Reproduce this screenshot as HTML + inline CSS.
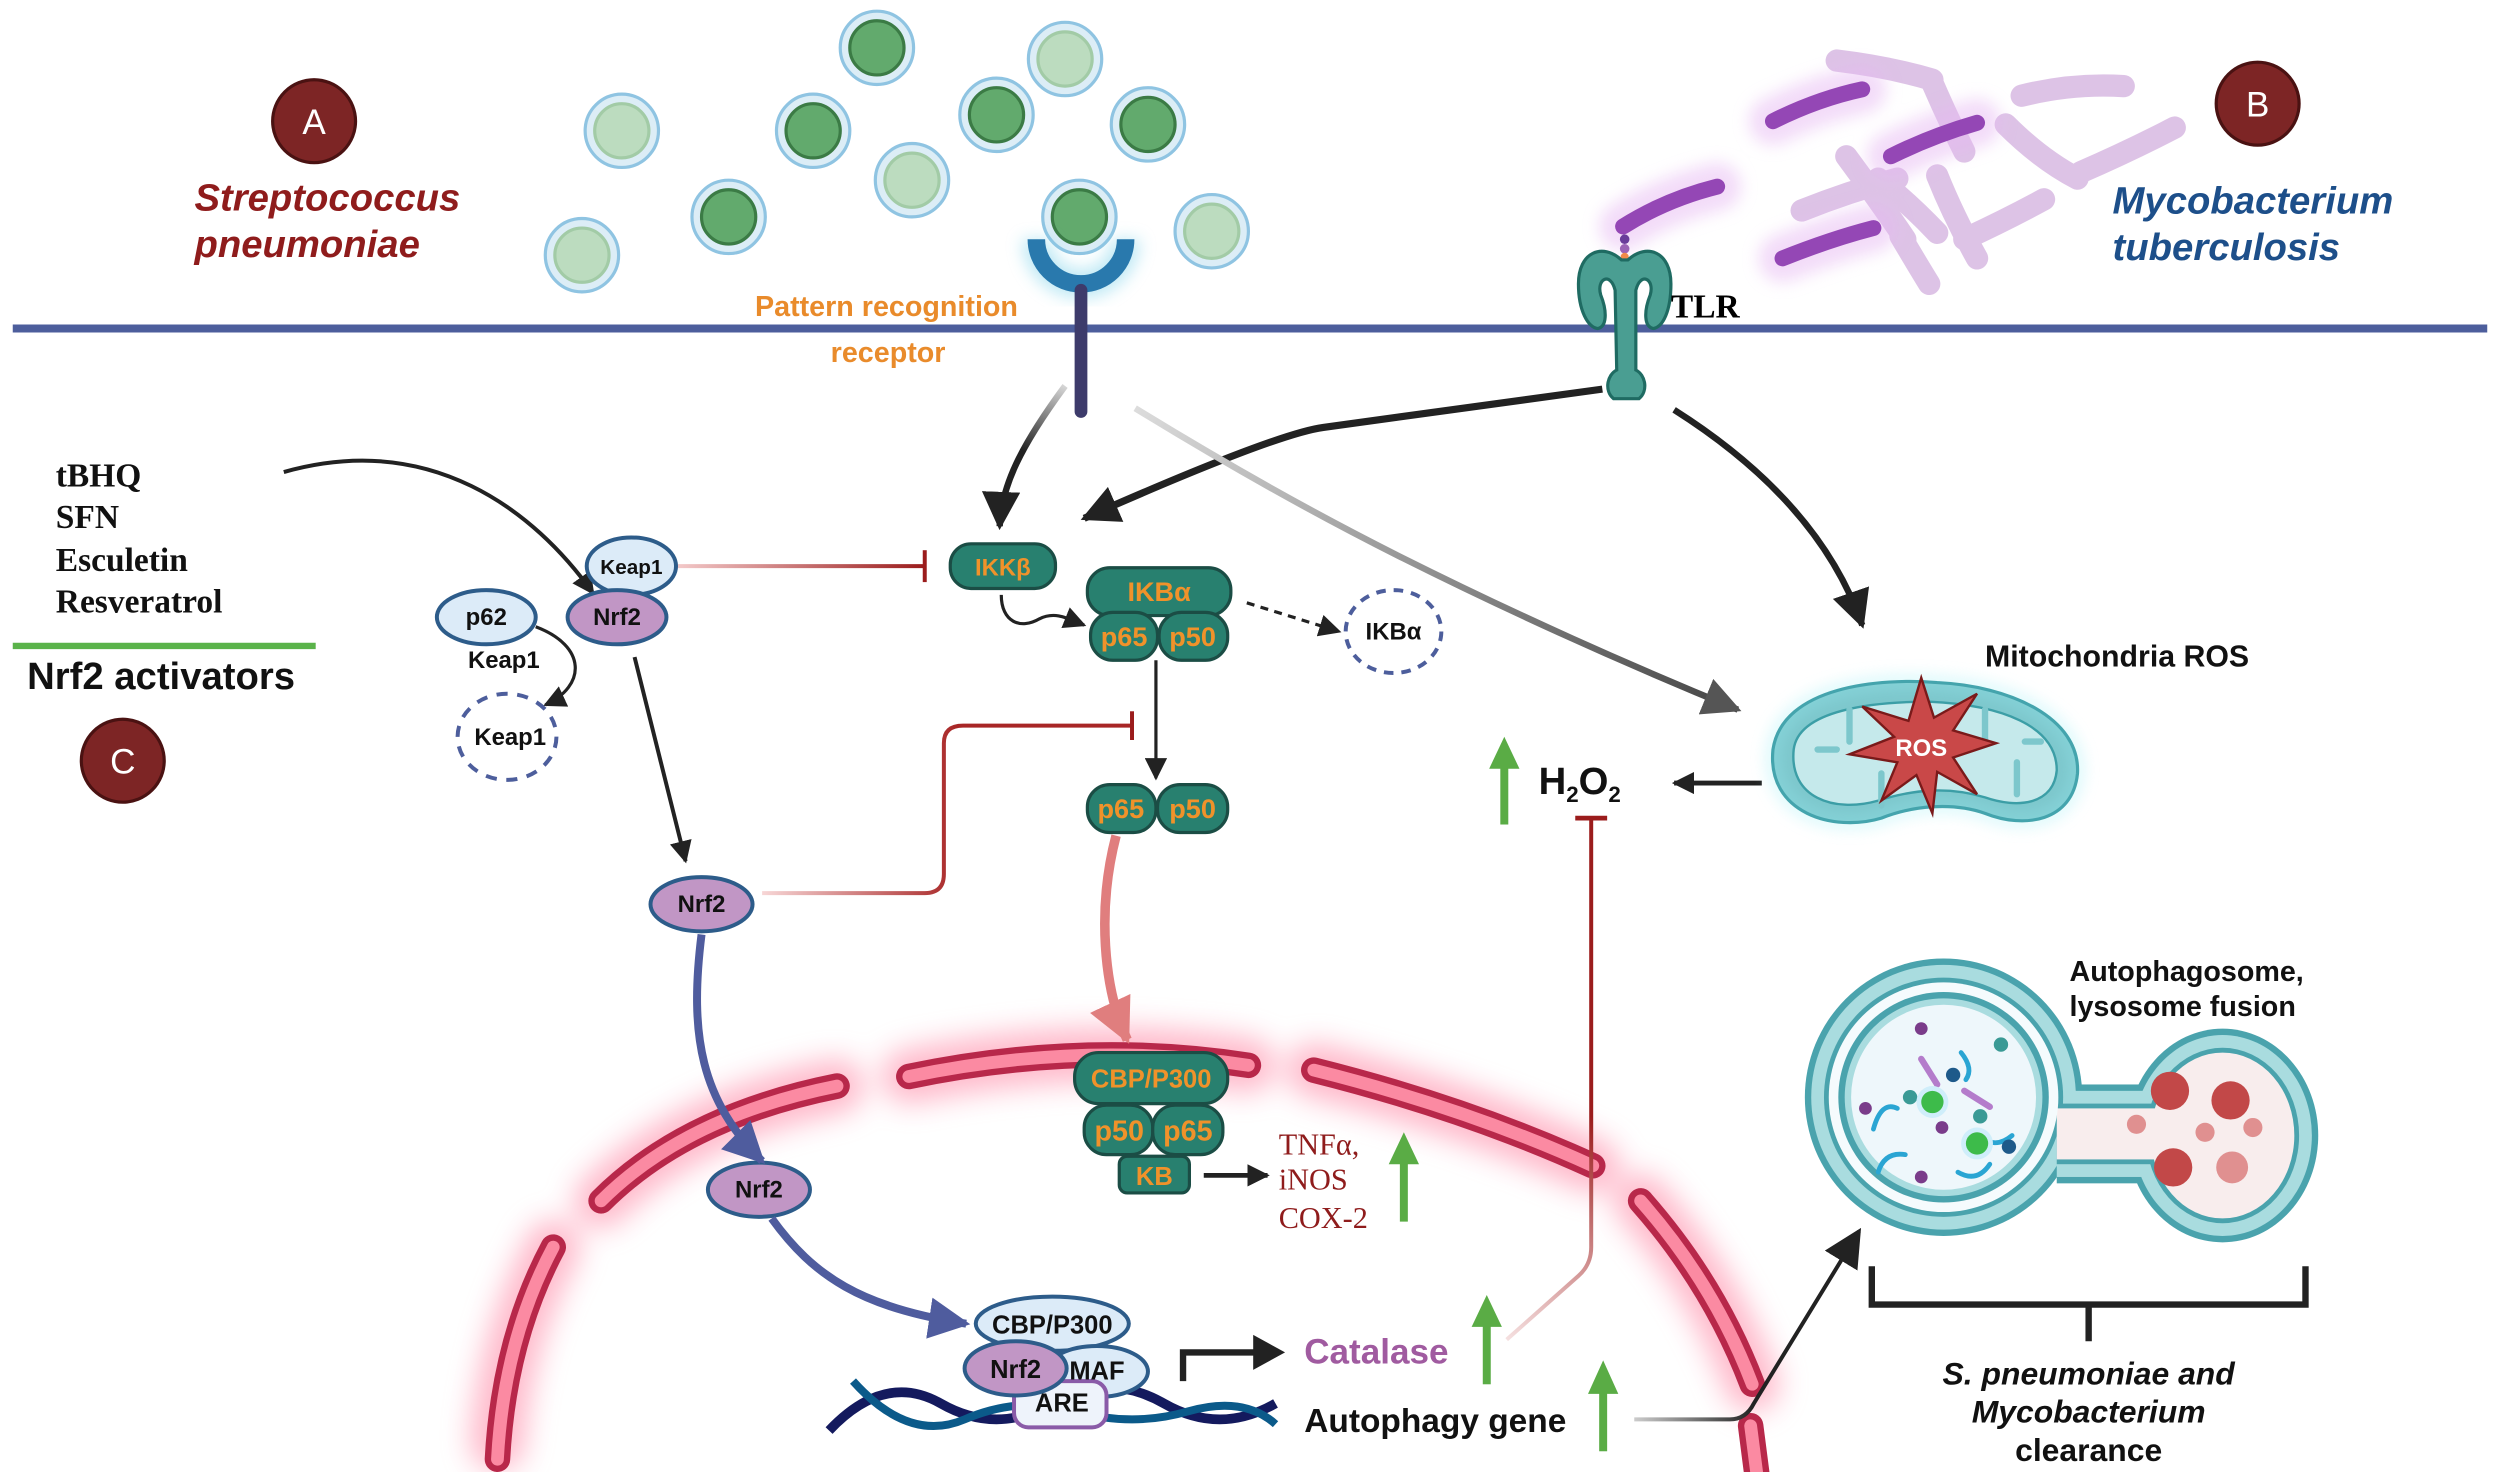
<!DOCTYPE html>
<html><head><meta charset="utf-8"><style>
html,body{margin:0;padding:0;background:#fff;}
svg{display:block;}
text{font-family:"Liberation Sans",sans-serif;}
text.serif{font-family:"Liberation Serif",serif;}
</style></head><body>
<svg width="2500" height="1472" viewBox="0 0 1568 923" preserveAspectRatio="none" xmlns="http://www.w3.org/2000/svg">
<defs>
<filter id="blur" x="-20%" y="-20%" width="140%" height="140%"><feGaussianBlur stdDeviation="9"/></filter>
<filter id="blur2" x="-50%" y="-50%" width="200%" height="200%"><feGaussianBlur stdDeviation="5"/></filter>
<marker id="ah" viewBox="0 0 10 10" refX="9" refY="5" markerWidth="14" markerHeight="14" markerUnits="userSpaceOnUse" orient="auto"><path d="M0,0 L10,5 L0,10 z" fill="#222"/></marker>
<marker id="ahB" viewBox="0 0 10 10" refX="9" refY="5" markerWidth="24" markerHeight="24" markerUnits="userSpaceOnUse" orient="auto"><path d="M0,0 L10,5 L0,10 z" fill="#222"/></marker>
<marker id="ahG" viewBox="0 0 10 10" refX="9" refY="5" markerWidth="24" markerHeight="24" markerUnits="userSpaceOnUse" orient="auto"><path d="M0,0 L10,5 L0,10 z" fill="#555"/></marker>
<marker id="ahU" viewBox="0 0 10 10" refX="9" refY="5" markerWidth="26" markerHeight="26" markerUnits="userSpaceOnUse" orient="auto"><path d="M0,0 L10,5 L0,10 z" fill="#4f5c9e"/></marker>
<marker id="ahP" viewBox="0 0 10 10" refX="9" refY="5" markerWidth="28" markerHeight="28" markerUnits="userSpaceOnUse" orient="auto"><path d="M0,0 L10,5 L0,10 z" fill="#e07e7e"/></marker>
<linearGradient id="gK" gradientUnits="userSpaceOnUse" x1="425" y1="355" x2="580" y2="355"><stop offset="0" stop-color="#f3c9c9"/><stop offset="1" stop-color="#9b1c1c"/></linearGradient>
<linearGradient id="gN" gradientUnits="userSpaceOnUse" x1="478" y1="560" x2="600" y2="560"><stop offset="0" stop-color="#f7d6d6"/><stop offset="1" stop-color="#a82626"/></linearGradient>
<linearGradient id="gGray" gradientUnits="userSpaceOnUse" x1="710" y1="255" x2="1090" y2="445"><stop offset="0" stop-color="#ddd"/><stop offset="1" stop-color="#444"/></linearGradient>
<linearGradient id="gPrr" gradientUnits="userSpaceOnUse" x1="668" y1="240" x2="625" y2="330"><stop offset="0" stop-color="#ddd"/><stop offset="0.5" stop-color="#222"/></linearGradient>
<linearGradient id="gCat" gradientUnits="userSpaceOnUse" x1="945" y1="840" x2="998" y2="700"><stop offset="0" stop-color="#f5e0e0"/><stop offset="1" stop-color="#9b1c1c"/></linearGradient>
<linearGradient id="gAut" gradientUnits="userSpaceOnUse" x1="1025" y1="890" x2="1100" y2="890"><stop offset="0" stop-color="#ccc"/><stop offset="1" stop-color="#222"/></linearGradient>
</defs>

<!-- nucleus glow -->
<g opacity="0.55" filter="url(#blur)">
<path d="M312,905 Q316,840 347,782" stroke="#ff7f9f" stroke-width="34" fill="none" stroke-linecap="round"/>
<path d="M377,753 Q430,700 525,681" stroke="#ff7f9f" stroke-width="34" fill="none" stroke-linecap="round"/>
<path d="M570,675 Q680,652 783,668" stroke="#ff7f9f" stroke-width="34" fill="none" stroke-linecap="round"/>
<path d="M824,671 Q920,695 999,731" stroke="#ff7f9f" stroke-width="34" fill="none" stroke-linecap="round"/>
<path d="M1029,753 Q1075,805 1099,868" stroke="#ff7f9f" stroke-width="34" fill="none" stroke-linecap="round"/>
</g>
<g fill="none" stroke-linecap="round">
<g stroke="#b8284a" stroke-width="16">
<path d="M312,915 Q316,840 347,782"/>
<path d="M377,753 Q430,700 525,681"/>
<path d="M570,675 Q680,652 783,668"/>
<path d="M824,671 Q920,695 999,731"/>
<path d="M1029,753 Q1075,805 1099,868"/>
<path d="M1098,894 L1102,925"/>
</g>
<g stroke="#fb8aa2" stroke-width="8">
<path d="M312,915 Q316,840 347,782"/>
<path d="M377,753 Q430,700 525,681"/>
<path d="M570,675 Q680,652 783,668"/>
<path d="M824,671 Q920,695 999,731"/>
<path d="M1029,753 Q1075,805 1099,868"/>
<path d="M1098,894 L1102,925"/>
</g>
</g>

<!-- membrane -->
<line x1="8" y1="206" x2="1560" y2="206" stroke="#4d5e9c" stroke-width="5"/>

<!-- labels A B C -->
<g font-size="22" fill="#fff" text-anchor="middle">
<circle cx="197" cy="76" r="26" fill="#7d2525" stroke="#4a1212" stroke-width="2"/><text x="197" y="84">A</text>
<circle cx="1416" cy="65" r="26" fill="#7d2525" stroke="#4a1212" stroke-width="2"/><text x="1416" y="73">B</text>
<circle cx="77" cy="477" r="26" fill="#7d2525" stroke="#4a1212" stroke-width="2"/><text x="77" y="485">C</text>
</g>
<g font-size="24" font-weight="bold" font-style="italic" fill="#8f1c1c">
<text x="122" y="132">Streptococcus</text><text x="122" y="161">pneumoniae</text></g>
<g font-size="24" font-weight="bold" font-style="italic" fill="#1d4f8a">
<text x="1325" y="134">Mycobacterium</text><text x="1325" y="163">tuberculosis</text></g>

<!-- bacteria -->
<g stroke-width="2">
<g fill="#dcedf6" stroke="#8fc4e2">
<circle cx="390" cy="82" r="23"/><circle cx="550" cy="30" r="23"/><circle cx="510" cy="82" r="23"/><circle cx="668" cy="37" r="23"/><circle cx="625" cy="72" r="23"/><circle cx="720" cy="78" r="23"/><circle cx="572" cy="113" r="23"/><circle cx="457" cy="136" r="23"/><circle cx="365" cy="160" r="23"/><circle cx="760" cy="145" r="23"/><circle cx="677" cy="136" r="23"/></g>
<g fill="#62aa6d" stroke="#3b7b45">
<circle cx="550" cy="30" r="17"/><circle cx="510" cy="82" r="17"/><circle cx="625" cy="72" r="17"/><circle cx="720" cy="78" r="17"/><circle cx="457" cy="136" r="17"/><circle cx="677" cy="136" r="17"/></g>
<g fill="#bcdcbf" stroke="#a2cba6">
<circle cx="390" cy="82" r="17"/><circle cx="668" cy="37" r="17"/><circle cx="572" cy="113" r="17"/><circle cx="365" cy="160" r="17"/><circle cx="760" cy="145" r="17"/></g>
</g>

<!-- PRR -->
<path d="M650,150 A28,28 0 0 0 706,150" stroke="#7fd3ea" stroke-width="18" fill="none" opacity="0.5" filter="url(#blur2)"/>
<path d="M650,150 A28,28 0 0 0 706,150" stroke="#2979ad" stroke-width="11" fill="none"/>
<line x1="678" y1="182" x2="678" y2="258" stroke="#3d3b6b" stroke-width="8" stroke-linecap="round"/>
<g font-size="18" font-weight="bold" fill="#e98b2b" text-anchor="middle">
<text x="556" y="198">Pattern recognition</text><text x="557" y="227">receptor</text></g>

<!-- mycobacteria -->
<g stroke-linecap="round" fill="none">
<g stroke="#b67cc8" stroke-width="14" opacity="0.45">
<path d="M1152,38 Q1185,42 1212,50"/><path d="M1212,52 Q1222,75 1232,95"/><path d="M1268,60 Q1300,52 1332,54"/><path d="M1258,78 Q1280,100 1303,112"/><path d="M1305,108 Q1335,95 1364,80"/><path d="M1158,98 Q1178,125 1195,150"/><path d="M1130,132 Q1160,120 1190,112"/><path d="M1178,112 Q1198,128 1215,146"/><path d="M1215,110 Q1225,135 1240,162"/><path d="M1232,150 Q1258,138 1282,125"/><path d="M1192,148 Q1202,165 1210,178"/>
</g>
<g stroke="#e6b8f2" stroke-width="30" opacity="0.5" filter="url(#blur2)">
<path d="M1018,142 Q1045,125 1077,117"/><path d="M1112,76 Q1140,62 1168,56"/><path d="M1186,98 Q1212,85 1240,77"/><path d="M1118,162 Q1148,150 1175,143"/></g>
<g stroke="#9447b5" stroke-width="10">
<path d="M1018,142 Q1045,125 1077,117"/><path d="M1112,76 Q1140,62 1168,56"/><path d="M1186,98 Q1212,85 1240,77"/><path d="M1118,162 Q1148,150 1175,143"/></g>
</g>
<circle cx="1019" cy="150" r="3" fill="#6a3c9a"/><circle cx="1019" cy="156" r="3" fill="#9b63b5"/><circle cx="1019" cy="161" r="2.5" fill="#f08a4a"/>

<!-- TLR -->
<g fill="#4a9e92" stroke="#1f6b62" stroke-width="2">
<path d="M1017,163 C1005,152 990,158 990,178 C990,195 996,205 1002,206 C1008,205 1008,195 1004,185 C1001,175 1010,170 1013,182 L1014,232 C1008,235 1006,245 1012,250 L1028,250 C1034,245 1032,235 1026,232 L1026,182 C1029,170 1038,175 1035,185 C1031,195 1031,205 1037,206 C1043,205 1048,195 1048,178 C1048,158 1033,152 1021,163 Z"/>
</g>
<text class="serif" x="1048" y="199" font-weight="bold" font-size="21" fill="#000">TLR</text>

<!-- Activators -->
<g font-size="21" font-weight="bold" fill="#111">
<text class="serif" x="35" y="305">tBHQ</text><text class="serif" x="35" y="331">SFN</text><text class="serif" x="35" y="358">Esculetin</text><text class="serif" x="35" y="384">Resveratrol</text></g>
<line x1="8" y1="405" x2="198" y2="405" stroke="#5ab34a" stroke-width="4"/>
<text x="17" y="432" font-size="24" font-weight="bold" fill="#111">Nrf2 activators</text>

<!-- arrows upper -->
<path d="M178,296 C270,270 335,320 372,372" stroke="#222" stroke-width="2.5" fill="none" marker-end="url(#ah)"/>
<path d="M336,393 C368,405 368,430 342,442" stroke="#222" stroke-width="2" fill="none" marker-end="url(#ah)"/>
<line x1="425" y1="355" x2="580" y2="355" stroke="url(#gK)" stroke-width="2.5"/>
<line x1="580" y1="345" x2="580" y2="365" stroke="#9b1c1c" stroke-width="2.5"/>
<line x1="398" y1="412" x2="430" y2="540" stroke="#222" stroke-width="2.5" marker-end="url(#ah)"/>
<path d="M478,560 L580,560 Q592,560 592,548 L592,466 Q592,455 604,455 L710,455" stroke="url(#gN)" stroke-width="2.5" fill="none"/>
<line x1="710" y1="446" x2="710" y2="464" stroke="#9b1c1c" stroke-width="2.5"/>
<path d="M668,242 C640,280 628,305 627,330" stroke="url(#gPrr)" stroke-width="4" fill="none" marker-end="url(#ahB)"/>
<path d="M1005,244 L830,268 Q800,272 680,325" stroke="#222" stroke-width="4.5" fill="none" marker-end="url(#ahB)"/>
<path d="M712,256 Q800,310 880,350 Q980,400 1090,445" stroke="url(#gGray)" stroke-width="4" fill="none" marker-end="url(#ahG)"/>
<path d="M1050,257 C1110,295 1150,340 1168,392" stroke="#222" stroke-width="4" fill="none" marker-end="url(#ahB)"/>
<path d="M628,373 C628,390 640,395 652,388 C662,383 670,388 680,392" stroke="#222" stroke-width="2" fill="none" marker-end="url(#ah)"/>
<line x1="782" y1="378" x2="840" y2="396" stroke="#222" stroke-width="2" stroke-dasharray="5,4" marker-end="url(#ah)"/>
<line x1="725" y1="414" x2="725" y2="488" stroke="#222" stroke-width="2" marker-end="url(#ah)"/>

<!-- Keap1 / Nrf2 cluster -->
<g stroke="#2d5c8a" stroke-width="2.5" font-size="14" font-weight="bold" text-anchor="middle">
<ellipse cx="396" cy="355" rx="28" ry="18" fill="#dcebf8"/>
<ellipse cx="387" cy="387" rx="31" ry="17" fill="#c196c5"/>
<ellipse cx="305" cy="387" rx="31" ry="17" fill="#dcebf8"/>
<ellipse cx="318" cy="462" rx="31" ry="27" fill="none" stroke="#4d5e9c" stroke-dasharray="7,6"/>
<ellipse cx="874" cy="396" rx="30" ry="26" fill="none" stroke="#4d5e9c" stroke-dasharray="6,5"/>
<ellipse cx="440" cy="567" rx="32" ry="17" fill="#c196c5"/>
<ellipse cx="476" cy="746" rx="32" ry="17" fill="#c196c5"/>
</g>
<g font-size="15" font-weight="bold" text-anchor="middle" fill="#111">
<text x="396" y="360" font-size="13">Keap1</text><text x="387" y="392">Nrf2</text><text x="305" y="392">p62</text>
<text x="316" y="419">Keap1</text><text x="320" y="467">Keap1</text><text x="874" y="401">IKBα</text>
<text x="440" y="572">Nrf2</text><text x="476" y="751">Nrf2</text></g>

<!-- NF-kB boxes -->
<g fill="#28806f" stroke="#1b4d45" stroke-width="2">
<rect x="596" y="341" width="66" height="28" rx="13"/>
<rect x="682" y="356" width="90" height="30" rx="14"/>
<rect x="684" y="384" width="42" height="30" rx="14"/><rect x="727" y="384" width="43" height="30" rx="14"/>
<rect x="682" y="492" width="43" height="30" rx="14"/><rect x="726" y="492" width="44" height="30" rx="14"/>
</g>
<g font-size="17" font-weight="bold" fill="#f0922a" text-anchor="middle">
<text x="629" y="361" font-size="15">IKKβ</text><text x="727" y="377">IKBα</text>
<text x="705" y="405">p65</text><text x="748" y="405">p50</text>
<text x="703" y="513">p65</text><text x="748" y="513">p50</text></g>

<!-- pink arrow -->
<path d="M700,524 C688,570 692,620 707,652" stroke="#e07e7e" stroke-width="6" fill="none" marker-end="url(#ahP)"/>
<!-- blue arrows -->
<path d="M440,586 C432,650 440,690 478,728" stroke="#4f5c9e" stroke-width="5" fill="none" marker-end="url(#ahU)"/>
<path d="M484,764 C510,800 540,820 606,830" stroke="#4f5c9e" stroke-width="5" fill="none" marker-end="url(#ahU)"/>

<!-- nuclear NF-kB -->
<g fill="#28806f" stroke="#1b4d45" stroke-width="2">
<rect x="674" y="660" width="96" height="32" rx="15"/>
<rect x="680" y="693" width="43" height="31" rx="14"/><rect x="723" y="693" width="44" height="31" rx="14"/>
<rect x="702" y="725" width="44" height="23" rx="5"/>
</g>
<g font-size="16" font-weight="bold" fill="#f0922a" text-anchor="middle">
<text x="722" y="682">CBP/P300</text><text x="702" y="715" font-size="18">p50</text><text x="745" y="715" font-size="18">p65</text><text x="724" y="743">KB</text></g>
<line x1="755" y1="737" x2="795" y2="737" stroke="#222" stroke-width="3" marker-end="url(#ah)"/>
<g font-size="19" fill="#8f1c1c">
<text class="serif" x="802" y="724">TNFα,</text><text class="serif" x="802" y="746">iNOS</text><text class="serif" x="802" y="770">COX-2</text></g>

<!-- green arrows -->
<g fill="#5aac45">
<rect x="878" y="728" width="5" height="38"/><path d="M871,730 L880.5,710 L890,730 z"/>
<rect x="941" y="480" width="5" height="37"/><path d="M934,482 L943.5,462 L953,482 z"/>
<rect x="930" y="830" width="5" height="38"/><path d="M923,832 L932.5,812 L942,832 z"/>
<rect x="1003" y="872" width="5" height="38"/><path d="M996,874 L1005.5,853 L1015,874 z"/>
</g>

<!-- DNA -->
<path d="M520,897 Q555,860 590,880 T660,880 T730,880 T800,880" stroke="#141a5e" stroke-width="6" fill="none"/>
<path d="M535,866 Q570,905 605,890 T675,885 T745,885 T800,893" stroke="#0b5a8a" stroke-width="5" fill="none"/>
<g stroke="#2d5c8a" stroke-width="2.5">
<ellipse cx="660" cy="830" rx="48" ry="17" fill="#dcebf8"/>
<ellipse cx="688" cy="860" rx="32" ry="16" fill="#dcebf8"/>
<rect x="636" y="866" width="58" height="29" rx="9" fill="#eef3fb" stroke="#8a5ba8"/>
<ellipse cx="637" cy="858" rx="32" ry="17" fill="#c196c5"/>
</g>
<g font-size="16" font-weight="bold" fill="#111" text-anchor="middle">
<text x="660" y="836">CBP/P300</text><text x="637" y="864">Nrf2</text><text x="688" y="865">MAF</text><text x="666" y="885">ARE</text></g>
<path d="M742,866 L742,848 L790,848" stroke="#222" stroke-width="4" fill="none"/>
<path d="M786,837 L806,848 L786,859 z" fill="#222"/>
<text x="818" y="855" font-size="22" font-weight="bold" fill="#a05ba0">Catalase</text>
<text x="818" y="898" font-size="21" font-weight="bold" fill="#111">Autophagy gene</text>

<!-- catalase inhibition -->
<path d="M945,840 L990,800 Q998,793 998,782 L998,513" stroke="url(#gCat)" stroke-width="2.5" fill="none"/>
<line x1="988" y1="513" x2="1008" y2="513" stroke="#9b1c1c" stroke-width="3"/>
<text x="965" y="498" font-size="24" font-weight="bold" fill="#111">H<tspan font-size="14" dy="5">2</tspan><tspan dy="-5">O</tspan><tspan font-size="14" dy="5">2</tspan></text>
<line x1="1105" y1="491" x2="1050" y2="491" stroke="#222" stroke-width="3" marker-end="url(#ah)"/>

<!-- mitochondrion -->
<path d="M1112,470 C1118,430 1180,425 1215,428 C1260,430 1305,450 1303,485 C1300,515 1270,520 1245,510 C1225,503 1200,505 1180,513 C1150,522 1108,510 1112,470 Z" fill="#7dc7cc" stroke="#2b8e98" stroke-width="2"/>
<path d="M1112,470 C1118,430 1180,425 1215,428 C1260,430 1305,450 1303,485 C1300,515 1270,520 1245,510 C1225,503 1200,505 1180,513 C1150,522 1108,510 1112,470 Z" fill="none" stroke="#9aeef5" stroke-width="6" opacity="0.5" filter="url(#blur2)"/>
<path d="M1125,470 C1128,445 1175,440 1210,440 C1255,442 1290,455 1290,483 C1288,505 1265,507 1245,500 C1222,493 1200,495 1178,502 C1150,510 1122,500 1125,470 Z" fill="#c5e9eb" stroke="#3c9ea6" stroke-width="1.5"/>
<g stroke="#7dc7cc" stroke-width="4" stroke-linecap="round">
<line x1="1140" y1="470" x2="1152" y2="470"/><line x1="1160" y1="445" x2="1160" y2="465"/><line x1="1180" y1="505" x2="1180" y2="485"/><line x1="1245" y1="445" x2="1245" y2="465"/><line x1="1265" y1="498" x2="1265" y2="478"/><line x1="1280" y1="465" x2="1270" y2="465"/></g>
<polygon points="1205,425 1213,450 1240,435 1225,458 1252,466 1225,475 1240,498 1215,484 1212,510 1202,486 1180,502 1190,478 1160,473 1188,462 1168,443 1197,452" fill="#c94848" stroke="#7a1a1a" stroke-width="1.5"/>
<text x="1205" y="474" font-size="15" font-weight="bold" fill="#fff" text-anchor="middle">ROS</text>
<text x="1245" y="418" font-size="19" font-weight="bold" fill="#111">Mitochondria ROS</text>

<!-- autophagosome -->
<g fill="#4aa3ad">
<circle cx="1219" cy="688" r="87"/><ellipse cx="1394" cy="712" rx="60" ry="67"/><rect x="1290" y="680" width="60" height="62"/></g>
<g fill="#a9dcdf">
<circle cx="1219" cy="688" r="83"/><ellipse cx="1394" cy="712" rx="56" ry="63"/><rect x="1290" y="684" width="60" height="54"/></g>
<g fill="#4aa3ad"><circle cx="1219" cy="688" r="75"/><ellipse cx="1394" cy="712" rx="48" ry="55"/><rect x="1290" y="692" width="62" height="38"/></g>
<ellipse cx="1394" cy="712" rx="45" ry="52" fill="#f8eded"/><rect x="1290" y="695" width="62" height="32" fill="#f8eded"/>
<circle cx="1219" cy="688" r="72" fill="#f5fbfd"/>
<circle cx="1219" cy="688" r="66" fill="#4aa3ad"/><circle cx="1219" cy="688" r="62" fill="#a9dcdf"/><circle cx="1219" cy="688" r="58" fill="#eef7fb"/>
<g stroke="#2aa5d3" stroke-width="3" fill="none" stroke-linecap="round">
<path d="M1175,708 Q1180,690 1190,695"/><path d="M1230,660 Q1238,670 1233,677"/><path d="M1240,710 Q1250,722 1262,712"/><path d="M1178,735 Q1182,722 1195,724"/><path d="M1228,735 Q1240,742 1248,730"/></g>
<g stroke="#b47ccb" stroke-width="4" stroke-linecap="round"><line x1="1205" y1="664" x2="1215" y2="680"/><line x1="1232" y1="684" x2="1248" y2="694"/></g>
<g fill="#3a9a95"><circle cx="1255" cy="655" r="4.5"/><circle cx="1198" cy="688" r="4.5"/><circle cx="1242" cy="700" r="4.5"/></g>
<g fill="#1e5a8a"><circle cx="1225" cy="674" r="4.5"/><circle cx="1260" cy="719" r="4.5"/></g>
<g fill="#7a3c8a"><circle cx="1205" cy="645" r="4"/><circle cx="1170" cy="695" r="4"/><circle cx="1205" cy="738" r="4"/><circle cx="1218" cy="707" r="4"/></g>
<circle cx="1212" cy="691" r="10" fill="#cfeefa"/><circle cx="1212" cy="691" r="7" fill="#3dbb4a"/>
<circle cx="1240" cy="717" r="10" fill="#cfeefa"/><circle cx="1240" cy="717" r="7" fill="#3dbb4a"/>
<g fill="#c24848"><circle cx="1361" cy="684" r="12"/><circle cx="1399" cy="690" r="12"/><circle cx="1363" cy="732" r="12"/></g>
<g fill="#e09090"><circle cx="1340" cy="705" r="6"/><circle cx="1383" cy="710" r="6"/><circle cx="1413" cy="707" r="6"/><circle cx="1400" cy="732" r="10"/></g>
<text x="1298" y="615" font-size="18" font-weight="bold" fill="#111">Autophagosome,</text>
<text x="1298" y="637" font-size="18" font-weight="bold" fill="#111">lysosome fusion</text>
<!-- bracket -->
<path d="M1174,794 L1174,818 L1446,818 L1446,794 M1310,818 L1310,841" stroke="#222" stroke-width="4" fill="none"/>
<g font-size="20" font-weight="bold" font-style="italic" fill="#111" text-anchor="middle">
<text x="1310" y="868">S. pneumoniae and</text><text x="1310" y="892">Mycobacterium</text></g>
<text x="1310" y="916" font-size="20" font-weight="bold" fill="#111" text-anchor="middle">clearance</text>
<!-- autophagy arrow -->
<path d="M1025,890 L1085,890 Q1095,890 1100,880 L1166,772" stroke="url(#gAut)" stroke-width="2.5" fill="none" marker-end="url(#ahB)"/>
</svg>
</body></html>
